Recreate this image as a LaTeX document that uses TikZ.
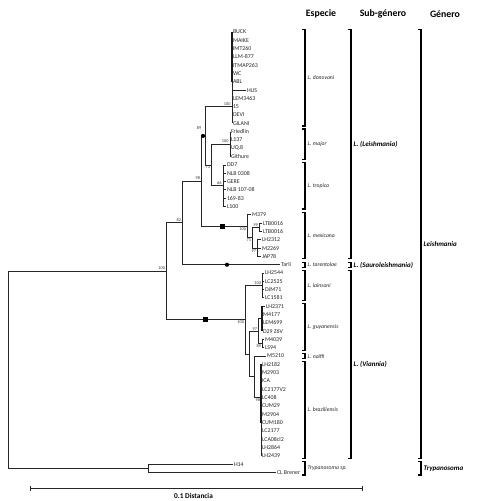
\documentclass[tikz,border=0pt]{standalone}
\usepackage{fontspec}
\setmainfont{Carlito}
\newcommand\mybrk[3]{\draw[brk] ({#1-3.5},#2) -- (#1,#2) -- (#1,#3) -- ({#1-3.5},#3);}
\newcommand\mkleaf[4]{\node[leaf] (#1) at (#2,{32+8.31*#3}) {#4};}
\begin{document}
\begin{tikzpicture}[x=1pt,y=-1pt,
  br/.style={line width=0.9pt, draw=black!85},
  thk/.style={line width=1.8pt, draw=black!90},
  leaf/.style={anchor=west, inner sep=0.8pt, font=\fontsize{5.9}{6.5}\selectfont, text=black!85},
  bs/.style={inner sep=0.3pt, font=\fontsize{4.3}{5}\selectfont, text=black!80},
  brk/.style={line width=1.1pt, draw=black},
  sp/.style={anchor=west, inner sep=0.5pt, font=\fontsize{5.7}{6.5}\selectfont\itshape, text=black!85},
  sg/.style={anchor=west, inner sep=0.5pt, font=\fontsize{7}{8}\selectfont\bfseries\itshape},
  hd/.style={font=\fontsize{9.8}{11}\selectfont\bfseries, inner sep=0pt},
  mk/.style={fill=black, draw=none, inner sep=0pt}
]
\useasboundingbox (0,0) rectangle (478,501);

% internal nodes
\coordinate (R) at (8,369.8);
\coordinate (A) at (166,271.3);
\coordinate (T) at (148,468.25);
\coordinate (B) at (182,222.9);
\coordinate (C) at (201,181.05);
\coordinate (D) at (205,135.9);
\coordinate (Dn) at (232,106.8);
\coordinate (E) at (211,165);
\coordinate (Mj) at (230,144.2);
\coordinate (Tr) at (223,185.8);
\coordinate (M1) at (247,226.2);
\coordinate (M2) at (252,237.65);
\coordinate (LTB) at (259,227.25);
\coordinate (LHg) at (257,248.05);
\coordinate (V) at (245,319.7);
\coordinate (La) at (262,285.45);
\coordinate (V2) at (249,354);
\coordinate (G) at (258,331.2);
\coordinate (G1) at (262,318.7);
\coordinate (G2) at (262,343.65);
\coordinate (V3) at (254,376.9);
\coordinate (Bz) at (261,397.6);

% leaves
\mkleaf{l0}{232}{0}{BUCK}
\mkleaf{l1}{232}{1}{MAIKE}
\mkleaf{l2}{232}{2}{IMT260}
\mkleaf{l3}{232}{3}{LLM-877}
\mkleaf{l4}{232}{4}{ITMAP263}
\mkleaf{l5}{232}{5}{WC}
\mkleaf{l6}{232}{6}{ABL}
\mkleaf{l7}{246}{7}{HUS}
\mkleaf{l8}{232}{8}{LEM3463}
\mkleaf{l9}{232}{9}{15}
\mkleaf{l10}{232}{10}{DEVI}
\mkleaf{l11}{232}{11}{GILANI}
\mkleaf{l12}{230}{12}{Friedlin}
\mkleaf{l13}{230}{13}{L137}
\mkleaf{l14}{230}{14}{UQ.8}
\mkleaf{l15}{230}{15}{Githure}
\mkleaf{l16}{226}{16}{DD7}
\mkleaf{l17}{226}{17}{NLB 0308}
\mkleaf{l18}{226}{18}{GERE}
\mkleaf{l19}{226}{19}{NLB 107-08}
\mkleaf{l20}{226}{20}{169-83}
\mkleaf{l21}{226}{21}{L100}
\mkleaf{l22}{251}{22}{M379}
\mkleaf{l23}{262}{23}{LTB0016}
\mkleaf{l24}{262}{24}{LTB0016}
\mkleaf{l25}{261}{25}{LH2312}
\mkleaf{l26}{261}{26}{M2269}
\mkleaf{l27}{261}{27}{JAP78}
\mkleaf{l28}{280}{28}{Tarli}
\mkleaf{l29}{264}{29}{LH2544}
\mkleaf{l30}{264}{30}{LC2525}
\mkleaf{l31}{264}{31}{DJM71}
\mkleaf{l32}{264}{32}{LC1581}
\mkleaf{l33}{265}{33}{LH2371}
\mkleaf{l34}{262}{34}{M4177}
\mkleaf{l35}{262}{35}{LEM699}
\mkleaf{l36}{262}{36}{D29 Z6V}
\mkleaf{l37}{264}{37}{M4039}
\mkleaf{l38}{264}{38}{LS94}
\mkleaf{l39}{266}{39}{M5210}
\mkleaf{l40}{261}{40}{LH2182}
\mkleaf{l41}{261}{41}{M2903}
\mkleaf{l42}{261}{42}{ICA}
\mkleaf{l43}{261}{43}{LC2177V2}
\mkleaf{l44}{261}{44}{LC408}
\mkleaf{l45}{261}{45}{CUM29}
\mkleaf{l46}{261}{46}{M2904}
\mkleaf{l47}{261}{47}{CUM180}
\mkleaf{l48}{261}{48}{LC2177}
\mkleaf{l49}{261}{49}{LCA08cl2}
\mkleaf{l50}{261}{50}{LH2864}
\mkleaf{l51}{261}{51}{LH2439}
\mkleaf{l52}{233}{52}{H14}
\mkleaf{l53}{276}{53}{CL Brener}

% branches
\draw[br] (R) |- (A);
\draw[br] (R) |- (T);
\draw[br] (A) |- (B);
\draw[br] (A) |- (V);
\draw[br] (B) |- (C);
\draw[br] (B) |- (l28.west);
\draw[br] (C) |- (D);
\draw[br] (C) |- (M1);
\draw[br] (D) |- (Dn);
\draw[br] (D) |- (E);
\draw[br] (E) |- (Mj);
\draw[br] (E) |- (Tr);
\foreach \i in {0,...,11} \draw[br] (Dn) |- (l\i.west);
\foreach \i in {12,...,15} \draw[br] (Mj) |- (l\i.west);
\foreach \i in {16,...,21} \draw[br] (Tr) |- (l\i.west);
\draw[br] (M1) |- (l22.west);
\draw[br] (M1) |- (M2);
\draw[br] (M2) |- (LTB);
\draw[br] (M2) |- (LHg);
\foreach \i in {23,24} \draw[br] (LTB) |- (l\i.west);
\foreach \i in {25,26,27} \draw[br] (LHg) |- (l\i.west);
\draw[br] (V) |- (La);
\draw[br] (V) |- (V2);
\foreach \i in {29,...,32} \draw[br] (La) |- (l\i.west);
\draw[br] (V2) |- (G);
\draw[br] (V2) |- (V3);
\draw[br] (G) |- (G1);
\draw[br] (G) |- (G2);
\foreach \i in {33,...,36} \draw[br] (G1) |- (l\i.west);
\foreach \i in {37,38} \draw[br] (G2) |- (l\i.west);
\draw[br] (V3) |- (l39.west);
\draw[br] (V3) |- (Bz);
\foreach \i in {40,...,51} \draw[br] (Bz) |- (l\i.west);
\draw[br] (T) |- (l52.west);
\draw[br] (T) |- (l53.west);
% collapsed clusters
\draw[thk] (l0.west) -- (l6.west);
\draw[thk] (l36.west |- l33.west) -- (l36.west);
\draw[thk] (l40.west) -- (l47.west);

% markers
\node[mk, circle, minimum size=4.2pt] (dot1) at (203,135.9) {};
\node[mk, circle, minimum size=4.2pt] (dot2) at (227,264.7) {};
\node[mk, minimum size=5pt] (sq1) at (222,226.2) {};
\node[mk, minimum size=5pt] (sq2) at (205,319.7) {};

% bootstrap values
\node[bs, anchor=south east] (bA) at (165.5,270.5) {100};
\node[bs, anchor=south east] (bB) at (181.5,222) {82};
\node[bs, anchor=south east] (bC) at (200.5,180) {98};
\node[bs, anchor=south] (bD) at (199,130) {89};
\node[bs, anchor=south east] (bDn) at (231,106) {100};
\node[bs, anchor=south east] (bMj) at (229,143.5) {100};
\node[bs, anchor=north east] (bE) at (210.5,165.5) {73};
\node[bs, anchor=south east] (bTr) at (222,185) {66};
\node[bs, anchor=north east] (bM1) at (246.5,227) {100};
\node[bs, anchor=north east] (bM2) at (251.5,238.5) {71};
\node[bs, anchor=south east] (bLTB) at (258.5,226.5) {99};
\node[bs, anchor=north east] (bLHg) at (256.5,249) {97};
\node[bs, anchor=south east] (bLa) at (261.5,284.7) {100};
\node[bs, anchor=north east] (bV) at (244.5,320.5) {100};
\node[bs, anchor=south east] (bG) at (257.5,330.5) {97};
\node[bs, anchor=north east] (bG2) at (261.5,344.5) {89};
\node[bs, anchor=north east] (bBz) at (260.5,398.5) {98};

% headers
\node[hd] (h1) at (321,14) {Especie};
\node[hd] (h2) at (383,14) {Sub-género};
\node[hd] (h3) at (445,14) {Género};

% species brackets
\mybrk{305}{29.5}{126}
\mybrk{305}{129}{159.2}
\mybrk{305}{162.5}{209}
\mybrk{305}{212.3}{258.9}
\mybrk{305}{262.2}{267.2}
\mybrk{305}{270.5}{300.4}
\mybrk{305}{303.7}{350.3}
\mybrk{305}{353.6}{358.6}
\mybrk{305}{361.9}{458.3}
\mybrk{305}{461.6}{475}
\node[sp] (s1) at (307,77.7) {L. donovani};
\node[sp] (s2) at (307,144.2) {L. major};
\node[sp] (s3) at (307,185.8) {L. tropica};
\node[sp] (s4) at (307,235.6) {L. mexicana};
\node[sp] (s5) at (307,264.7) {L. tarentolae};
\node[sp] (s6) at (307,285.4) {L. lainsoni};
\node[sp] (s7) at (307,327) {L. guyanensis};
\node[sp] (s8) at (307,356.1) {L. naiffi};
\node[sp] (s9) at (307,410) {L. braziliensis};
\node[sp] (s10) at (307,468.3) {Trypanosoma sp.};

% sub-genus brackets
\mybrk{351}{29.5}{258.9}
\mybrk{351}{262.2}{267.2}
\mybrk{351}{270.5}{458.3}
\node[sg] (g1) at (353,144) {L. (Leishmania)};
\node[sg] (g2) at (353,265) {L. (Sauroleishmania)};
\node[sg] (g3) at (353,364.4) {L. (Viannia)};

% genus brackets
\mybrk{421}{29.5}{458.3}
\mybrk{421}{461.6}{475}
\node[sg] (k1) at (423,244) {Leishmania};
\node[sg] (k2) at (423,468.3) {Trypanosoma};

% scale bar
\coordinate (sb1) at (30,488);
\coordinate (sb2) at (362,488);
\draw[br] (sb1) -- (sb2);
\draw[br] ([yshift=-2.5pt]sb1) -- ([yshift=2.5pt]sb1);
\draw[br] ([yshift=-2.5pt]sb2) -- ([yshift=2.5pt]sb2);
\node[anchor=west, inner sep=0pt, font=\fontsize{7.3}{8}\selectfont\bfseries] (sbl) at (174,496) {0.1 Distancia};
\end{tikzpicture}
\end{document}
